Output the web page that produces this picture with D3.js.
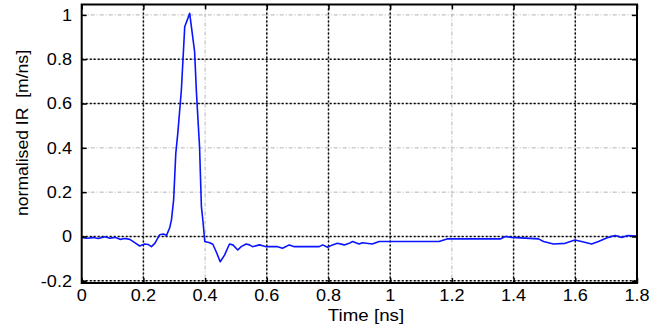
<!DOCTYPE html>
<html><head><meta charset="utf-8">
<script src="https://cdn.jsdelivr.net/npm/d3@7"></script>
<style>body{margin:0;background:#fff}svg{display:block}text{font-family:"Liberation Sans",Arial,sans-serif;fill:#000}</style>
</head><body>
<svg id="c" width="656" height="329"></svg>
<script>
const time = [0,0.016,0.038,0.054,0.075,0.091,0.108,0.124,0.14,0.156,0.172,0.188,0.204,0.215,0.226,0.237,0.253,0.264,0.275,0.285,0.291,0.298,0.305,0.312,0.323,0.334,0.35,0.366,0.372,0.382,0.388,0.393,0.399,0.415,0.425,0.436,0.449,0.463,0.479,0.49,0.506,0.517,0.533,0.544,0.554,0.576,0.587,0.598,0.635,0.651,0.673,0.689,0.77,0.781,0.797,0.813,0.829,0.851,0.867,0.878,0.899,0.91,0.942,0.964,1.158,1.184,1.357,1.373,1.394,1.481,1.497,1.529,1.567,1.599,1.62,1.653,1.675,1.707,1.729,1.75,1.771,1.8];
const irValues = [-0.004,-0.008,-0.005,-0.009,-0.001,-0.008,-0.004,-0.013,-0.009,-0.013,-0.028,-0.043,-0.034,-0.036,-0.046,-0.031,0.008,0.011,0.005,0.038,0.075,0.165,0.375,0.473,0.66,0.947,1.007,0.834,0.648,0.405,0.135,0.07,-0.023,-0.028,-0.035,-0.069,-0.114,-0.084,-0.034,-0.038,-0.061,-0.046,-0.034,-0.038,-0.046,-0.038,-0.042,-0.046,-0.046,-0.053,-0.038,-0.046,-0.046,-0.038,-0.049,-0.038,-0.031,-0.038,-0.031,-0.023,-0.034,-0.028,-0.034,-0.023,-0.023,-0.011,-0.011,0,-0.004,-0.011,-0.023,-0.034,-0.031,-0.016,-0.023,-0.034,-0.023,-0.004,0.004,-0.004,0.004,0.002];
const xTicks = [0,0.2,0.4,0.6,0.8,1,1.2,1.4,1.6,1.8];
const xTickLabels = ["0","0.2","0.4","0.6","0.8","1","1.2","1.4","1.6","1.8"];
const yTicks = [-0.2,0,0.2,0.4,0.6,0.8,1];
const yTickLabels = ["-0.2","0","0.2","0.4","0.6","0.8","1"];
const xDarkGrid = [0.2,0.6,0.8,1,1.4,1.6];
const yDarkGrid = [-0.2,0,0.6,0.8];
const xTitle = "Time [ns]";
const yTitle = "normalised IR  [m/ns]";

const svg = d3.select("#c");
const L=81.7,R=637,T=4.5,B=283;
const SX=1.13, FS=16;
const x = d3.scaleLinear().domain([0,1.8]).range([L,R]);
const y = d3.scaleLinear().domain([-0.21,1.047]).range([B,T]);

const g = svg.append("g");
g.selectAll(".gx").data(xTicks.slice(1,-1)).enter().append("line")
 .attr("x1",d=>x(d)).attr("x2",d=>x(d)).attr("y1",T).attr("y2",B)
 .attr("stroke","#b4b4b4").attr("stroke-width",1).attr("stroke-dasharray","4,2,1,2");
g.selectAll(".gy").data(yTicks).enter().append("line")
 .attr("y1",d=>y(d)).attr("y2",d=>y(d)).attr("x1",L).attr("x2",R)
 .attr("stroke","#b4b4b4").attr("stroke-width",1).attr("stroke-dasharray","4,2,1,2");
g.selectAll(".dx").data(xDarkGrid).enter().append("line")
 .attr("x1",d=>x(d)).attr("x2",d=>x(d)).attr("y1",T).attr("y2",B)
 .attr("stroke","#000").attr("stroke-width",1.5).attr("stroke-dasharray","2,2");
g.selectAll(".dy").data(yDarkGrid).enter().append("line")
 .attr("y1",d=>y(d)).attr("y2",d=>y(d)).attr("x1",L).attr("x2",R)
 .attr("stroke","#000").attr("stroke-width",1.5).attr("stroke-dasharray","2,2");

const pts = time.map((t,i)=>[t,irValues[i]]);
svg.append("path").datum(pts)
 .attr("d",d3.line().x(d=>x(d[0])).y(d=>y(d[1])))
 .attr("fill","none").attr("stroke","#0a14ff").attr("stroke-width",1.6).attr("stroke-linejoin","round");

const ax = svg.append("g").attr("transform",`translate(0,${B})`)
 .call(d3.axisBottom(x).tickValues(xTicks).tickFormat("").tickSizeInner(-5).tickSizeOuter(0));
const ay = svg.append("g").attr("transform",`translate(${L},0)`)
 .call(d3.axisLeft(y).tickValues(yTicks).tickFormat("").tickSizeInner(-5).tickSizeOuter(0));
const at = svg.append("g").attr("transform",`translate(0,${T})`)
 .call(d3.axisTop(x).tickValues(xTicks).tickFormat("").tickSizeInner(-5).tickSizeOuter(0));
const ar = svg.append("g").attr("transform",`translate(${R},0)`)
 .call(d3.axisRight(y).tickValues(yTicks).tickFormat("").tickSizeInner(-5).tickSizeOuter(0));
[ax,ay,at,ar].forEach(a=>{a.select(".domain").remove();a.selectAll(".tick line").attr("stroke","#000").attr("stroke-width",1.5);});

svg.append("g").selectAll("text").data(xTicks).enter().append("text")
 .attr("transform",d=>`translate(${x(d)},301) scale(${SX},1)`)
 .attr("text-anchor","middle").attr("font-size",FS)
 .text((d,i)=>xTickLabels[i]);
svg.append("g").selectAll("text").data(yTicks).enter().append("text")
 .attr("transform",d=>`translate(72,${y(d)+5.8}) scale(${SX},1)`)
 .attr("text-anchor","end").attr("font-size",FS)
 .text((d,i)=>yTickLabels[i]);

svg.append("rect").attr("x",L).attr("y",T).attr("width",R-L).attr("height",B-T)
 .attr("fill","none").attr("stroke","#000").attr("stroke-width",2);

svg.append("text").attr("transform",`translate(366,321) scale(1.17,1)`).attr("text-anchor","middle").attr("font-size",FS).text(xTitle);
svg.append("text").attr("transform",`translate(28,133) rotate(-90) scale(1.1,1)`).attr("text-anchor","middle")
 .attr("font-size",FS).style("white-space","pre").attr("xml:space","preserve").text(yTitle);
</script>
</body></html>
